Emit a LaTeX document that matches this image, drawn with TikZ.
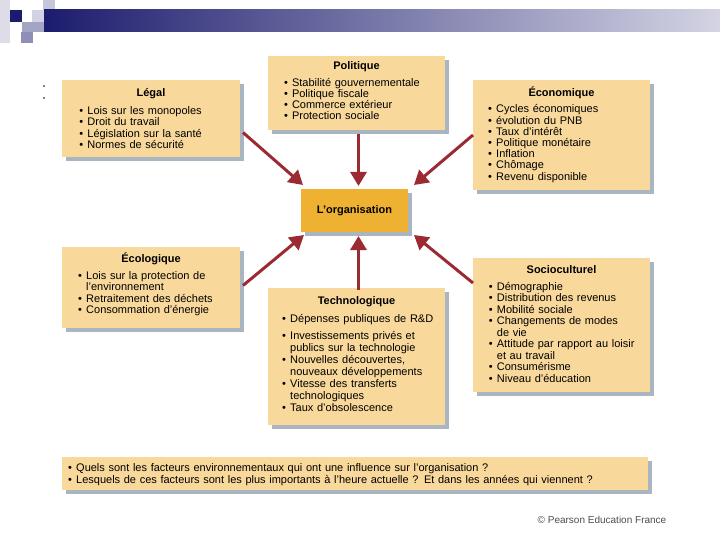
\documentclass[tikz,border=0pt]{standalone}
\usepackage{fontspec}
\setmainfont{Liberation Sans}
\usepackage{tikz}
\usetikzlibrary{arrows.meta,positioning,shadows,calc}

\definecolor{boxfill}{HTML}{F9D89C}
\definecolor{orgfill}{HTML}{EFB132}
\definecolor{boxshade}{HTML}{A9B5C0}
\definecolor{arrowred}{HTML}{9C2A33}
\definecolor{navy}{HTML}{1C1C6E}
\definecolor{barend}{HTML}{D4D4E4}

\newcommand{\factitem}[1]{\par\hangindent=8pt\hangafter=1\noindent\makebox[8pt][l]{\textbullet}#1}

\begin{document}
\begin{tikzpicture}[x=1pt,y=-1pt,
  factor/.style={fill=boxfill, inner sep=0pt, outer sep=0pt, anchor=north west,
    general shadow={fill=boxshade, shadow xshift=4pt, shadow yshift=-4pt}},
  ttl/.style={anchor=base, inner sep=0pt, font=\fontsize{11}{12}\selectfont\bfseries},
  lst/.style={anchor=base west, inner sep=0pt, text width=240pt, align=left,
    font=\fontsize{11}{11.5}\selectfont},
  infl/.style={draw=arrowred, line width=3pt, -{Triangle[length=14pt,width=16pt]}}
]
\useasboundingbox (0,0) rectangle (720,540);

% slide header
\fill[navy!15] (0,0) rectangle (10,43);
\fill[navy!25] (43,0) rectangle (55,22);
\fill[navy!20] (32,10) rectangle (44,22);
\fill[navy] (10,10) rectangle (22,22);
\fill[navy!40] (22,22) rectangle (44,32);
\fill[navy!50] (21,32) rectangle (33,43);
\shade[left color=navy, right color=barend] (44,10) rectangle (720,32);
\fill (44,86) circle (0.9);
\fill (44,98) circle (0.9);

% boxes
\node[factor, minimum width=178pt, minimum height=77pt] (legal) at (62,80) {};
\node[factor, minimum width=177pt, minimum height=74pt] (pol) at (268,56) {};
\node[factor, minimum width=177pt, minimum height=110pt] (eco) at (473,80) {};
\node[factor, minimum width=178pt, minimum height=81pt] (ecol) at (62,247) {};
\node[factor, minimum width=177pt, minimum height=137pt] (tech) at (268,288) {};
\node[factor, minimum width=177pt, minimum height=134pt] (socio) at (473,258) {};
\node[factor, minimum width=586pt, minimum height=33pt] (quest) at (62,457) {};
\node[factor, fill=orgfill, minimum width=107pt, minimum height=43pt,
  font=\fontsize{11}{12}\selectfont\bfseries] (org) at (301,189) {L’organisation};

% titles
\node[ttl] (legal-t) at (151,96.8) {Légal};
\node[ttl] (pol-t) at (356.5,69.8) {Politique};
\node[ttl] (eco-t) at (561.5,96.3) {Économique};
\node[ttl] (ecol-t) at (151,262.8) {Écologique};
\node[ttl] (tech-t) at (356.5,304.8) {Technologique};
\node[ttl] (socio-t) at (561.5,273.8) {Socioculturel};

% lists
\node[lst] (legal-l) at (79.2,102.8) {%
  \factitem{Lois sur les monopoles}
  \factitem{Droit du travail}
  \factitem{Législation sur la santé}
  \factitem{Normes de sécurité}};
\node[lst, font=\fontsize{11}{11}\selectfont] (pol-l) at (283.8,75.6) {%
  \factitem{Stabilité gouvernementale}
  \factitem{Politique fiscale}
  \factitem{Commerce extérieur}
  \factitem{Protection sociale}};
\node[lst, font=\fontsize{11}{11.2}\selectfont] (eco-l) at (488,101.8) {%
  \factitem{Cycles économiques}
  \factitem{évolution du PNB}
  \factitem{Taux d'intérêt}
  \factitem{Politique monétaire}
  \factitem{Inflation}
  \factitem{Chômage}
  \factitem{Revenu disponible}};
\node[lst] (ecol-l) at (78,267.6) {%
  \factitem{Lois sur la protection de\newline l'environnement}
  \factitem{Retraitement des déchets}
  \factitem{Consommation d'énergie}};
\node[lst, font=\fontsize{11}{12}\selectfont] (tech-l) at (282,310.6) {%
  \factitem{Dépenses publiques de R\&D}\par\vspace{5pt}
  \factitem{Investissements privés et\newline publics sur la technologie}
  \factitem{Nouvelles découvertes,\newline nouveaux développements}
  \factitem{Vitesse des transferts\newline technologiques}
  \factitem{Taux d'obsolescence}};
\node[lst] (socio-l) at (488.7,278.8) {%
  \factitem{Démographie}
  \factitem{Distribution des revenus}
  \factitem{Mobilité sociale}
  \factitem{Changements de modes\newline de vie}
  \factitem{Attitude par rapport au loisir\newline et au travail}
  \factitem{Consumérisme}
  \factitem{Niveau d'éducation}};
\node[lst, text width=580pt, font=\fontsize{11}{12}\selectfont] (quest-l) at (68,459.3) {%
  \factitem{Quels sont les facteurs environnementaux qui ont une influence sur l'organisation~?}
  \factitem{Lesquels de ces facteurs sont les plus importants à l'heure actuelle~? Et dans les années qui viennent~?}};

% influences
\draw[infl] ([xshift=3pt,yshift=-14pt]legal.east) -- ([xshift=2pt,yshift=4pt]org.north west);
\draw[infl] ([xshift=2pt,yshift=-4pt]pol.south) -- ([xshift=2pt,yshift=3pt]pol.south |- org.north);
\draw[infl] (eco.west) -- ([xshift=6pt,yshift=4pt]org.north east);
\draw[infl] ([xshift=3pt,yshift=2pt]ecol.east) -- ([xshift=3pt,yshift=-3pt]org.south west);
\draw[infl] ([xshift=2pt,yshift=-2pt]tech.north) -- ([xshift=2pt,yshift=-4pt]tech.north |- org.south);
\draw[infl] ([yshift=-25pt]socio.north west) -- ([xshift=6pt,yshift=-3pt]org.south east);

\node[font=\fontsize{10}{12}\selectfont, text=black!70] (credit) at (602,520) {© Pearson Education France};
\end{tikzpicture}
\end{document}
